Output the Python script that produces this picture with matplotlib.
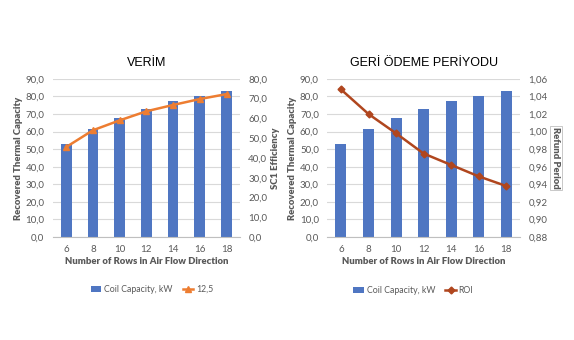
import matplotlib
matplotlib.use('Agg')
import matplotlib.pyplot as plt
import numpy as np

# data
rows = ['6', '8', '10', '12', '14', '16', '18']
coil_capacity = [53.0, 61.2, 67.6, 72.7, 77.2, 80.5, 83.3]
efficiency = [45.5, 54.0, 59.0, 63.6, 66.8, 69.8, 72.3]
roi = [1.048, 1.020, 0.998, 0.975, 0.962, 0.949, 0.938]

left_ticks = np.arange(0, 91, 10)
eff_ticks = np.arange(0, 81, 10)
roi_ticks = np.arange(0.88, 1.061, 0.02)

BLUE = '#4f76c2'
ORANGE = '#ed7d31'
RUST = '#b0461e'
GRAY = '#595959'
GRID = '#d9d9d9'

plt.rcParams['font.family'] = ['Lato', 'DejaVu Sans']


def fmt(v, dec):
    return f'{v:.{dec}f}'.replace('.', ',')


def base_axes(fig, rect, title):
    ax = fig.add_axes(rect)
    x = np.arange(len(rows))
    ax.bar(x, coil_capacity, width=0.4, color=BLUE, zorder=2,
           label='Coil Capacity, kW')
    ax.set_xlim(-0.5, len(rows) - 0.5)
    ax.set_ylim(0, 90)
    ax.set_yticks(left_ticks)
    ax.set_yticklabels([fmt(v, 1) for v in left_ticks])
    ax.set_xticks(x)
    ax.set_xticklabels(rows)
    ax.grid(axis='y', color=GRID, linewidth=0.8, zorder=0)
    for s in ['top', 'right', 'left']:
        ax.spines[s].set_visible(False)
    ax.spines['bottom'].set_color('#bfbfbf')
    ax.tick_params(length=0, labelsize=7, colors=GRAY, pad=6)
    ax.set_xlabel('Number of Rows in Air Flow Direction', fontsize=6.8,
                  fontweight='heavy', color=GRAY, labelpad=2)
    ax.set_ylabel('Recovered Thermal Capacity', fontsize=6.8,
                  fontweight='heavy', color=GRAY, labelpad=2)
    ax.set_title(title, fontsize=9, color='black', pad=9,
                 family='Liberation Sans')
    return ax, x


fig = plt.figure(figsize=(5.74, 3.40), dpi=100)

# left chart
ax1, x = base_axes(fig, [0.092, 0.303, 0.326, 0.465], 'VERİM')
ax1r = ax1.twinx()
ax1r.plot(x, efficiency, color=ORANGE, linewidth=1.8, marker='o',
          markersize=5, label='12,5')
ax1r.set_ylim(0, 80)
ax1r.set_yticks(eff_ticks)
ax1r.set_yticklabels([fmt(v, 1) for v in eff_ticks])
for s in ax1r.spines.values():
    s.set_visible(False)
ax1r.tick_params(length=0, labelsize=7, colors=GRAY, pad=6)
ax1r.set_ylabel('SC1 Efficiency', fontsize=6.8, fontweight='heavy',
                color=GRAY, rotation=90, labelpad=3)
h1, l1 = ax1.get_legend_handles_labels()
h2, l2 = ax1r.get_legend_handles_labels()
h2[0].set_marker('^')
fig.legend(h1 + h2, l1 + l2, loc='center', bbox_to_anchor=(0.265, 0.148),
           ncol=2, frameon=False, fontsize=6.3, labelcolor=GRAY,
           handlelength=1.2, handleheight=0.7, columnspacing=1.2,
           handletextpad=0.3)

# right chart
ax2, x = base_axes(fig, [0.570, 0.303, 0.336, 0.465], 'GERİ ÖDEME PERİYODU')
ax2r = ax2.twinx()
ax2r.plot(x, roi, color=RUST, linewidth=1.8, marker='D', markersize=3.5,
          label='ROI')
ax2r.set_ylim(0.88, 1.06)
ax2r.set_yticks(roi_ticks)
ax2r.set_yticklabels([fmt(v, 2) for v in roi_ticks])
for s in ax2r.spines.values():
    s.set_visible(False)
ax2r.tick_params(length=0, labelsize=7, colors=GRAY, pad=6)
ax2r.set_ylabel('Refund Period', fontsize=6.8, fontweight='heavy',
                color=GRAY, rotation=270, labelpad=9,
                bbox=dict(facecolor='white', edgecolor='#bfbfbf',
                          linewidth=0.6, pad=1))
h1, l1 = ax2.get_legend_handles_labels()
h2, l2 = ax2r.get_legend_handles_labels()
fig.legend(h1 + h2, l1 + l2, loc='center', bbox_to_anchor=(0.72, 0.145),
           ncol=2, frameon=False, fontsize=6.3, labelcolor=GRAY,
           handlelength=1.2, handleheight=0.7, columnspacing=1.2,
           handletextpad=0.3)

fig.savefig('out.png', dpi=100, facecolor='white')
